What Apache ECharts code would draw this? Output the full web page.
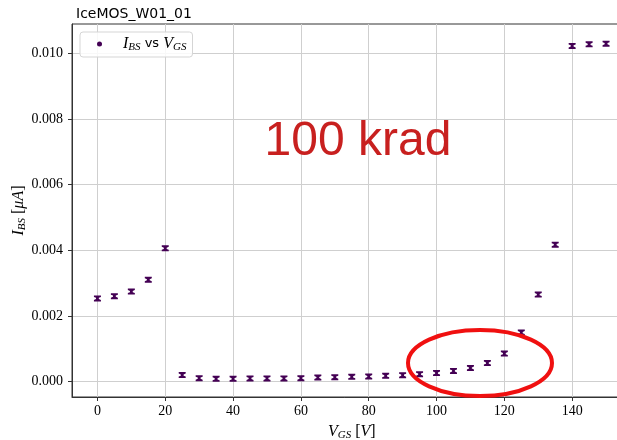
<!DOCTYPE html>
<html>
<head>
<meta charset="utf-8">
<script src="https://cdn.jsdelivr.net/npm/echarts@6/dist/echarts.min.js"></script>
<style>
html,body{margin:0;padding:0;background:#fff;}
#chart{width:617px;height:440px;}
</style>
</head>
<body>
<div id="chart"></div>
<script>
var vgs = [0,5,10,15,20,25,30,35,40,45,50,55,60,65,70,75,80,85,90,95,100,105,110,115,120,125,130,135,140,145,150];
var ibs = [0.00253,0.0026,0.00274,0.0031,0.00406,0.000195,0.0001,0.00008,0.00008,0.00009,0.00009,0.00009,0.0001,0.00012,0.00013,0.00014,0.00015,0.00017,0.00019,0.00022,0.000255,0.00032,0.00041,0.00056,0.00085,0.00149,0.00265,0.00417,0.01023,0.01028,0.0103];
var xTicks = [0,20,40,60,80,100,120,140];
var yTicks = [0,0.002,0.004,0.006,0.008,0.010];
var titleText = 'IceMOS_W01_01';
var annotation = '100 krad';

var serif = 'Liberation Serif';
var points = vgs.map(function(v,i){return [v, ibs[i]];});
var chart = echarts.init(document.getElementById('chart'));
var barSym = 'path://M0,0 L10,0 L10,2.5 L7,4 L7,6 L10,7.5 L10,10 L0,10 L0,7.5 L3,6 L3,4 L0,2.5 Z';
var richName = {
  i:{fontFamily:serif,fontStyle:'italic',fontSize:16,color:'#000'},
  s:{fontFamily:serif,fontStyle:'italic',fontSize:11,color:'#000',padding:[7,0,0,0]},
  n:{fontFamily:serif,fontSize:16,color:'#000'}
};

chart.setOption({
  animation:false,
  backgroundColor:'#fff',
  title:{text:titleText,left:71,top:2,textStyle:{fontFamily:'DejaVu Sans',fontSize:14,fontWeight:'normal',color:'#000'}},
  grid:{left:72,right:-14.5,top:24,bottom:43,show:true,borderColor:'#333',borderWidth:1,outerBoundsMode:'none',containLabel:false},
  legend:{
    left:80,top:32,
    data:[{name:'s',icon:'circle'}],
    itemWidth:5,itemHeight:5,itemGap:10,
    borderColor:'#d5d5d5',borderWidth:1,borderRadius:3,
    padding:[4,6,4,17],
    backgroundColor:'rgba(255,255,255,0.85)',
    formatter:function(){return '{g|}{i|I}{s|BS}{n| vs }{i|V}{s|GS}';},
    textStyle:{color:'#000',fontSize:13,rich:{
      g:{width:16},
      i:{fontFamily:serif,fontStyle:'italic',fontSize:16,color:'#000'},
      s:{fontFamily:serif,fontStyle:'italic',fontSize:11,color:'#000',padding:[7,0,0,0]},
      n:{fontFamily:'DejaVu Sans',fontSize:13,color:'#000'}
    }}
  },
  xAxis:{
    type:'value',min:-7.5,max:157.5,
    axisLine:{show:true,onZero:false,lineStyle:{color:'#333'}},
    axisTick:{show:true,inside:false,length:4,customValues:xTicks,lineStyle:{color:'#333'}},
    axisLabel:{customValues:xTicks,fontFamily:serif,fontSize:14,color:'#000',margin:7},
    splitLine:{show:true,lineStyle:{color:'#cfcfcf',width:1}},
    name:'{i|V}{s|GS}{n| [}{i|V}{n|]}',nameLocation:'middle',nameGap:26,nameMoveOverlap:false,
    nameTextStyle:{rich:richName}
  },
  yAxis:{
    type:'value',min:-0.000475,max:0.0109,
    axisLine:{show:true,onZero:false,lineStyle:{color:'#333'}},
    axisTick:{show:true,inside:false,length:4,customValues:yTicks,lineStyle:{color:'#333'}},
    axisLabel:{customValues:yTicks,fontFamily:serif,fontSize:14,color:'#000',margin:9,formatter:function(v){return v.toFixed(3);}},
    splitLine:{show:true,lineStyle:{color:'#cfcfcf',width:1}},
    name:'{i|I}{s|BS}{n| [}{i|μA}{n|]}',nameLocation:'middle',nameGap:44,nameRotate:90,nameMoveOverlap:false,
    nameTextStyle:{rich:richName}
  },
  series:[{
    name:'s',type:'scatter',data:points,
    symbol:barSym,symbolSize:[7,6],
    itemStyle:{color:'#440154',opacity:1},
    z:5
  }],
  graphic:[
    {type:'text',z:100,
     style:{text:annotation,x:358,y:142,textAlign:'center',textVerticalAlign:'middle',font:'48px "Liberation Sans"',fill:'#c8201f'}},
    {type:'ellipse',z:100,shape:{cx:480,cy:363,rx:72,ry:33},style:{fill:'none',stroke:'#f01010',lineWidth:4}}
  ]
});
</script>
</body>
</html>
